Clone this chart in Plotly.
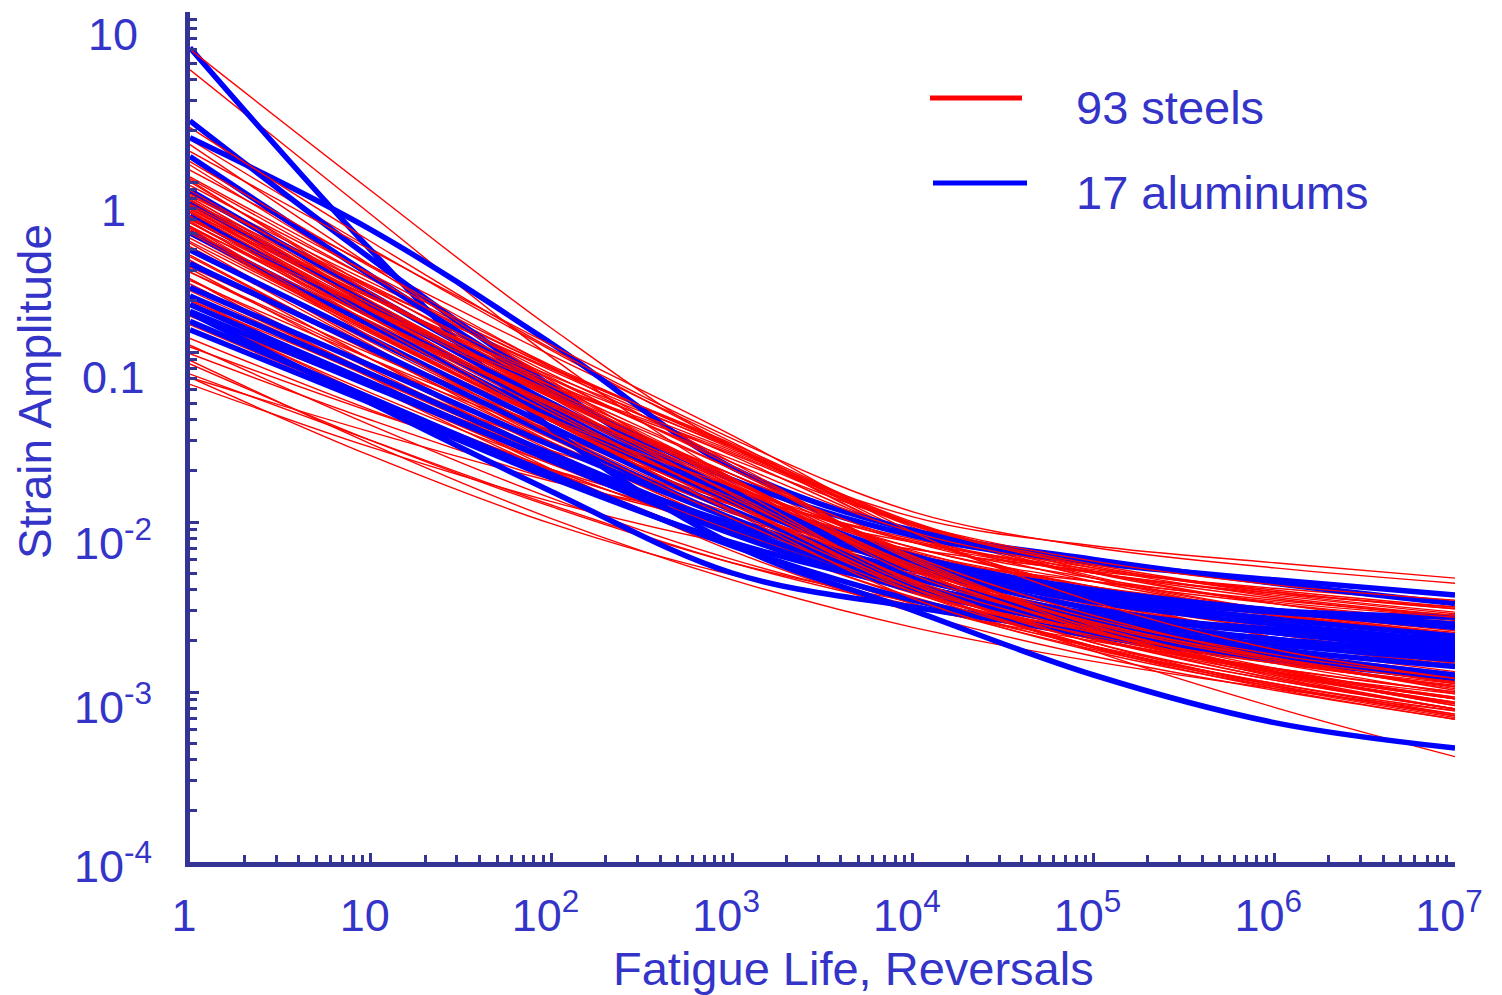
import plotly.graph_objects as go

# ---------------- data ----------------
life_reversals = [1, 10, 100, 1000, 10000, 100000, 1000000, 10000000]

# log10(strain amplitude) at each decade of life, one row per material
steel_log_strain = [
    [0.78, -0.05, -0.86, -1.56, -1.97, -2.14, -2.24, -2.33],
    [0.66, -0.19, -1.03, -1.74, -2.19, -2.39, -2.51, -2.62],
    [0.32, -0.35, -0.98, -1.51, -1.94, -2.15, -2.27, -2.36],
    [0.25, -0.39, -0.99, -1.55, -2.08, -2.40, -2.60, -2.74],
    [0.18, -0.40, -0.96, -1.49, -2.06, -2.47, -2.75, -2.92],
    [0.12, -0.50, -1.09, -1.65, -2.22, -2.61, -2.86, -3.04],
    [0.10, -0.55, -1.15, -1.65, -2.06, -2.27, -2.40, -2.50],
    [0.07, -0.49, -1.02, -1.53, -2.07, -2.43, -2.68, -2.83],
    [0.22, -0.49, -1.17, -1.79, -2.36, -2.71, -2.93, -3.10],
    [0.03, -0.54, -1.08, -1.55, -2.01, -2.27, -2.44, -2.55],
    [0.00, -0.62, -1.20, -1.74, -2.26, -2.59, -2.80, -2.94],
    [-0.02, -0.57, -1.09, -1.56, -2.03, -2.33, -2.52, -2.64],
    [-0.05, -0.65, -1.22, -1.75, -2.28, -2.64, -2.88, -3.04],
    [-0.08, -0.61, -1.11, -1.57, -2.02, -2.30, -2.48, -2.59],
    [-0.10, -0.74, -1.34, -1.88, -2.41, -2.73, -2.95, -3.11],
    [-0.12, -0.62, -1.10, -1.54, -2.01, -2.33, -2.54, -2.68],
    [-0.14, -0.72, -1.26, -1.76, -2.27, -2.60, -2.82, -2.97],
    [-0.16, -0.68, -1.16, -1.58, -2.01, -2.25, -2.41, -2.51],
    [-0.18, -0.76, -1.32, -1.83, -2.35, -2.71, -2.96, -3.14],
    [-0.20, -0.75, -1.27, -1.72, -2.18, -2.47, -2.66, -2.79],
    [-0.22, -0.74, -1.23, -1.69, -2.20, -2.55, -2.80, -2.97],
    [-0.23, -0.83, -1.36, -1.79, -2.15, -2.35, -2.48, -2.58],
    [-0.26, -0.80, -1.30, -1.78, -2.28, -2.64, -2.89, -3.06],
    [-0.27, -0.75, -1.19, -1.59, -2.02, -2.32, -2.52, -2.66],
    [-0.30, -0.87, -1.41, -1.90, -2.39, -2.73, -2.97, -3.15],
    [-0.31, -0.83, -1.31, -1.74, -2.20, -2.51, -2.73, -2.88],
    [0.01, -0.65, -1.27, -1.84, -2.37, -2.68, -2.88, -3.01],
    [-0.04, -0.71, -1.33, -1.84, -2.25, -2.47, -2.61, -2.72],
    [-0.07, -0.63, -1.16, -1.67, -2.21, -2.61, -2.88, -3.08],
    [-0.09, -0.70, -1.26, -1.72, -2.12, -2.33, -2.47, -2.56],
    [-0.11, -0.70, -1.25, -1.75, -2.25, -2.57, -2.78, -2.92],
    [-0.13, -0.68, -1.20, -1.69, -2.23, -2.63, -2.90, -3.10],
    [-0.15, -0.76, -1.32, -1.80, -2.22, -2.46, -2.63, -2.75],
    [-0.17, -0.74, -1.27, -1.77, -2.29, -2.64, -2.88, -3.04],
    [-0.18, -0.68, -1.14, -1.56, -2.00, -2.29, -2.48, -2.60],
    [-0.21, -0.80, -1.36, -1.88, -2.39, -2.74, -2.98, -3.16],
    [-0.22, -0.76, -1.26, -1.72, -2.19, -2.49, -2.70, -2.84],
    [-0.24, -0.80, -1.32, -1.79, -2.27, -2.59, -2.81, -2.97],
    [-0.26, -0.87, -1.39, -1.79, -2.12, -2.30, -2.42, -2.50],
    [-0.29, -0.82, -1.31, -1.78, -2.28, -2.64, -2.91, -3.10],
    [-0.30, -0.88, -1.40, -1.83, -2.22, -2.44, -2.59, -2.70],
    [-0.33, -0.88, -1.40, -1.86, -2.34, -2.65, -2.87, -3.03],
    [0.02, -0.57, -1.13, -1.61, -2.07, -2.35, -2.53, -2.65],
    [-0.06, -0.59, -1.09, -1.56, -2.08, -2.44, -2.68, -2.86],
    [-0.14, -0.79, -1.40, -1.93, -2.39, -2.65, -2.83, -2.96],
    [-0.20, -0.83, -1.41, -1.94, -2.45, -2.76, -2.97, -3.13],
    [-0.24, -0.75, -1.20, -1.60, -2.02, -2.26, -2.42, -2.53],
    [-0.27, -0.91, -1.48, -1.98, -2.41, -2.67, -2.86, -3.00],
    [-0.31, -0.88, -1.40, -1.84, -2.24, -2.49, -2.65, -2.78],
    [-0.09, -0.67, -1.18, -1.63, -2.01, -2.23, -2.37, -2.46],
    [-0.16, -0.72, -1.24, -1.74, -2.31, -2.62, -2.88, -3.06],
    [-0.35, -0.89, -1.41, -1.90, -2.32, -2.64, -2.88, -3.07],
    [-0.38, -0.94, -1.47, -1.94, -2.29, -2.54, -2.71, -2.85],
    [-0.41, -0.92, -1.41, -1.87, -2.26, -2.57, -2.80, -2.99],
    [-0.44, -0.98, -1.47, -1.89, -2.19, -2.38, -2.51, -2.62],
    [-0.47, -1.00, -1.51, -1.98, -2.37, -2.68, -2.92, -3.10],
    [-0.50, -0.98, -1.44, -1.84, -2.17, -2.42, -2.59, -2.72],
    [-0.53, -1.04, -1.53, -1.97, -2.33, -2.60, -2.79, -2.94],
    [-0.57, -1.10, -1.61, -2.07, -2.45, -2.74, -2.95, -3.13],
    [-0.58, -1.04, -1.46, -1.83, -2.10, -2.30, -2.45, -2.56],
    [-0.62, -1.12, -1.60, -2.03, -2.39, -2.67, -2.87, -3.04],
    [-0.64, -1.12, -1.56, -1.95, -2.26, -2.48, -2.65, -2.78],
    [-0.68, -1.20, -1.70, -2.13, -2.48, -2.73, -2.93, -3.10],
    [-0.70, -1.14, -1.55, -1.90, -2.18, -2.38, -2.54, -2.66],
    [-0.73, -1.20, -1.65, -2.04, -2.36, -2.60, -2.79, -2.95],
    [-0.76, -1.26, -1.72, -2.14, -2.48, -2.75, -2.96, -3.14],
    [-0.79, -1.20, -1.58, -1.89, -2.12, -2.28, -2.41, -2.51],
    [-0.82, -1.27, -1.69, -2.06, -2.36, -2.58, -2.76, -2.91],
    [-0.36, -0.96, -1.53, -2.02, -2.38, -2.63, -2.80, -2.94],
    [-0.39, -0.97, -1.50, -1.93, -2.23, -2.41, -2.55, -2.66],
    [-0.43, -0.99, -1.54, -2.02, -2.41, -2.69, -2.90, -3.07],
    [-0.46, -1.04, -1.58, -2.04, -2.37, -2.60, -2.76, -2.89],
    [-0.51, -1.07, -1.60, -2.07, -2.44, -2.69, -2.88, -3.03],
    [-0.53, -1.01, -1.45, -1.83, -2.11, -2.30, -2.43, -2.54],
    [-0.57, -1.15, -1.69, -2.17, -2.53, -2.79, -2.99, -3.16],
    [-0.60, -1.12, -1.62, -2.05, -2.39, -2.64, -2.82, -2.98],
    [-0.63, -1.07, -1.48, -1.85, -2.15, -2.38, -2.55, -2.69],
    [-0.67, -1.15, -1.61, -2.04, -2.42, -2.69, -2.92, -3.10],
    [-0.69, -1.20, -1.66, -2.05, -2.33, -2.54, -2.70, -2.83],
    [-0.72, -1.18, -1.61, -2.01, -2.35, -2.62, -2.83, -3.01],
    [-0.77, -1.24, -1.66, -2.01, -2.28, -2.47, -2.62, -2.75],
    [-0.84, -1.28, -1.69, -2.07, -2.40, -2.67, -2.89, -3.08],
    [-0.28, -0.86, -1.41, -1.93, -2.38, -2.76, -3.09, -3.38],
    [-1.15, -1.61, -2.01, -2.31, -2.50, -2.61, -2.69, -2.75],
    [-1.19, -1.56, -1.88, -2.13, -2.30, -2.43, -2.52, -2.59],
    [-1.07, -1.52, -1.91, -2.24, -2.47, -2.63, -2.75, -2.84],
    [-1.01, -1.40, -1.75, -2.02, -2.22, -2.35, -2.46, -2.55],
    [-0.96, -1.43, -1.86, -2.22, -2.49, -2.68, -2.83, -2.95],
    [-0.97, -1.35, -1.69, -2.00, -2.24, -2.43, -2.56, -2.67],
    [-1.13, -1.52, -1.90, -2.24, -2.50, -2.70, -2.86, -3.00],
    [-1.15, -1.47, -1.76, -1.99, -2.16, -2.29, -2.39, -2.47],
    [-0.92, -1.34, -1.71, -2.02, -2.24, -2.40, -2.52, -2.61],
    [-1.05, -1.54, -1.98, -2.34, -2.62, -2.82, -2.98, -3.11],
]

aluminum_log_strain = [
    [0.79, -0.40, -1.45, -2.13, -2.52, -2.90, -3.18, -3.33],
    [0.36, -0.45, -1.20, -1.85, -2.25, -2.45, -2.57, -2.67],
    [0.26, -0.28, -0.95, -1.68, -2.05, -2.22, -2.36, -2.48],
    [-0.77, -1.30, -1.82, -2.30, -2.50, -2.65, -2.78, -2.90],
    [0.15, -0.55, -1.22, -1.82, -2.22, -2.42, -2.52, -2.56],
    [-0.05, -0.66, -1.24, -1.75, -2.08, -2.24, -2.34, -2.43],
    [-0.12, -0.72, -1.30, -1.82, -2.20, -2.40, -2.52, -2.62],
    [-0.20, -0.78, -1.34, -1.86, -2.25, -2.47, -2.60, -2.70],
    [-0.30, -0.84, -1.38, -1.88, -2.27, -2.51, -2.65, -2.75],
    [-0.40, -0.92, -1.44, -1.93, -2.32, -2.56, -2.69, -2.79],
    [-0.48, -0.98, -1.49, -1.98, -2.37, -2.61, -2.75, -2.85],
    [-0.62, -1.08, -1.55, -1.98, -2.33, -2.54, -2.65, -2.73],
    [-0.67, -1.13, -1.60, -2.03, -2.37, -2.58, -2.69, -2.77],
    [-0.72, -1.18, -1.64, -2.07, -2.40, -2.61, -2.72, -2.81],
    [-0.76, -1.20, -1.63, -2.01, -2.28, -2.44, -2.53, -2.60],
    [-0.82, -1.27, -1.72, -2.14, -2.46, -2.67, -2.81, -2.92],
    [-0.87, -1.30, -1.74, -2.12, -2.38, -2.54, -2.63, -2.70],
]

series_names = ["93 steels", "17 aluminums"]

x_tick_vals = [1, 10, 100, 1000, 10000, 100000, 1000000, 10000000]
x_tick_text = ["1", "10", "10<sup>2</sup>", "10<sup>3</sup>", "10<sup>4</sup>",
               "10<sup>5</sup>", "10<sup>6</sup>", "10<sup>7</sup>"]
y_tick_exp = [-4, -3, -2, -1, 0, 1]
y_tick_text = ["10<sup>-4</sup>", "10<sup>-3</sup>", "10<sup>-2</sup>", "0.1", "1", "10"]

# ---------------- style ----------------
FONT = "Liberation Sans, Arial, sans-serif"
TXT = "#3434c8"
AX = "#343496"
RED = "#ff0000"
BLUE = "#0000ff"
RED_W = 1.4
BLUE_W = 5.5
TICK_FS = 45
y_label_drop_px = [1, 12, 18, 25, 28, 22]

x_minor = [m * 10 ** k for k in range(0, 7) for m in range(2, 10)]
y_minor = [m * 10.0 ** k for k in range(-4, 1) for m in range(2, 10)]

fig = go.Figure()


def add_curve(row, color, width):
    fig.add_trace(go.Scatter(
        x=life_reversals,
        y=[10 ** v for v in row],
        mode="lines",
        line=dict(color=color, width=width, shape="spline", smoothing=1.0),
        showlegend=False,
        hoverinfo="skip",
    ))


# drawing order (layering): ductile steels whose right end falls inside the
# aluminium band are drawn under the aluminiums, the rest of the upper steel
# band on top of them
n_upper = 51
under, over = [], []
for i, row in enumerate(steel_log_strain):
    if i >= n_upper or -2.88 <= row[-1] <= -2.58:
        under.append(row)
    else:
        over.append(row)
for row in under:
    add_curve(row, RED, RED_W)
for row in aluminum_log_strain:
    add_curve(row, BLUE, BLUE_W)
for row in over:
    add_curve(row, RED, RED_W)

L, R, T, B = 190, 47, 12, 133
W, H = 1502, 995
pw, ph = W - L - R, H - T - B


def px_to_paper_x(px):
    return (px - L) / pw


def px_to_paper_y(py):
    return (H - B - py) / ph


fig.update_xaxes(
    type="log", range=[0, 7],
    showline=True, linecolor=AX, linewidth=5,
    ticks="inside", ticklen=9, tickwidth=3, tickcolor=AX,
    tickmode="array", tickvals=x_tick_vals, ticktext=x_tick_text,
    tickfont=dict(family=FONT, size=TICK_FS, color=TXT),
    ticklabelstandoff=10, ticklabelshift=-6,
    minor=dict(tickmode="array", tickvals=x_minor, ticks="inside",
               ticklen=7, tickwidth=3, tickcolor=AX, showgrid=False),
    showgrid=False, zeroline=False,
)
fig.update_yaxes(
    type="log", range=[-4, 1],
    showline=True, linecolor=AX, linewidth=5,
    ticks="inside", ticklen=9, tickwidth=3, tickcolor=AX,
    tickmode="array", tickvals=[10.0 ** e for e in y_tick_exp],
    showticklabels=False,
    minor=dict(tickmode="array", tickvals=y_minor, ticks="inside",
               ticklen=7, tickwidth=3, tickcolor=AX, showgrid=False),
    showgrid=False, zeroline=False,
)

annotations = []
for e, txt, drop in zip(y_tick_exp, y_tick_text, y_label_drop_px):
    annotations.append(dict(
        x=px_to_paper_x(113), xref="paper", y=e, yref="y",
        text=txt, showarrow=False, xanchor="center", yanchor="middle",
        yshift=-drop, font=dict(family=FONT, size=TICK_FS, color=TXT),
    ))

annotations.append(dict(
    x=px_to_paper_x(853), xref="paper", y=px_to_paper_y(968), yref="paper",
    text="Fatigue Life, Reversals", showarrow=False,
    xanchor="center", yanchor="middle",
    font=dict(family=FONT, size=47, color=TXT),
))
annotations.append(dict(
    x=px_to_paper_x(35), xref="paper", y=px_to_paper_y(392), yref="paper",
    text="Strain Amplitude", showarrow=False, textangle=-90,
    xanchor="center", yanchor="middle",
    font=dict(family=FONT, size=46, color=TXT),
))

# legend (drawn manually to reproduce the long line samples)
legend_colors = [RED, BLUE]
legend_widths = [5, 5]
legend_line_px = [(930, 1022, 98), (933, 1027, 183)]
legend_text_px = [(1074, 108), (1074, 192)]
shapes = []
for name, col, lw, (x0, x1, yy), (tx, ty) in zip(series_names, legend_colors, legend_widths,
                                                  legend_line_px, legend_text_px):
    shapes.append(dict(type="line", xref="paper", yref="paper",
                       x0=px_to_paper_x(x0), x1=px_to_paper_x(x1),
                       y0=px_to_paper_y(yy), y1=px_to_paper_y(yy),
                       line=dict(color=col, width=lw)))
    annotations.append(dict(
        x=px_to_paper_x(tx), xref="paper", y=px_to_paper_y(ty), yref="paper",
        text=name, showarrow=False, xanchor="left", yanchor="middle",
        font=dict(family=FONT, size=47, color=TXT),
    ))

fig.update_layout(
    width=W, height=H,
    margin=dict(l=L, r=R, t=T, b=B),
    paper_bgcolor="white", plot_bgcolor="white",
    annotations=annotations, shapes=shapes,
    showlegend=False,
)

fig.write_html("out.html")
